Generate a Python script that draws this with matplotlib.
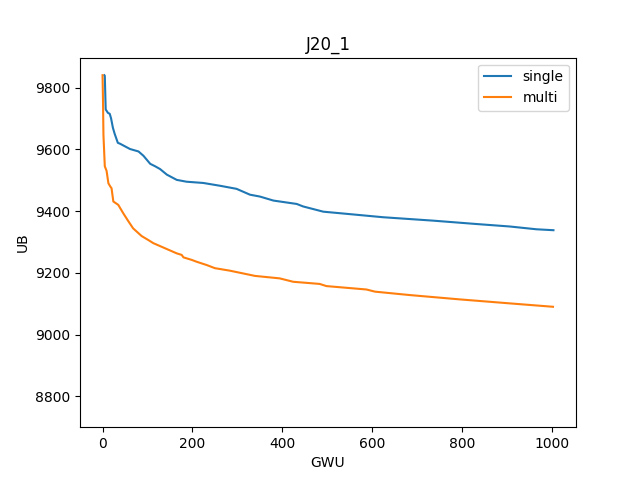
import matplotlib
matplotlib.use('Agg')
import matplotlib.pyplot as plt

# values
single_gwu = [4, 5, 7, 12, 16, 19, 23, 27, 34, 39, 61, 80, 91, 106, 117, 128, 143, 165, 187,
              224, 261, 298, 328, 350, 380, 432, 446, 491, 543, 624, 735, 832, 906, 965, 1003]
single_ub = [9840, 9838, 9729, 9718, 9715, 9700, 9670, 9650, 9621, 9618, 9601, 9593, 9579, 9553,
             9545, 9536, 9518, 9501, 9495, 9491, 9482, 9472, 9453, 9447, 9434, 9423, 9415, 9398,
             9391, 9380, 9369, 9358, 9350, 9341, 9338]

multi_gwu = [0, 1, 2, 5, 9, 13, 17, 20, 24, 35, 46, 57, 68, 87, 102, 113, 165, 176, 180, 198,
             209, 232, 250, 283, 339, 394, 424, 483, 498, 587, 606, 683, 794, 906, 1002]
multi_ub = [9840, 9760, 9647, 9545, 9530, 9490, 9480, 9474, 9431, 9420, 9393, 9368, 9344, 9319,
            9306, 9296, 9263, 9258, 9250, 9242, 9236, 9225, 9215, 9207, 9190, 9182, 9171, 9164,
            9157, 9146, 9139, 9128, 9114, 9101, 9090]

plt.figure(figsize=(6.4, 4.8))
plt.plot(single_gwu, single_ub, label='single')
plt.plot(multi_gwu, multi_ub, label='multi')
plt.ylim(8700, 9897)
plt.xlabel('GWU')
plt.ylabel('UB')
plt.title('J20_1')
plt.legend(loc='upper right')
plt.savefig('out.png', dpi=100)
